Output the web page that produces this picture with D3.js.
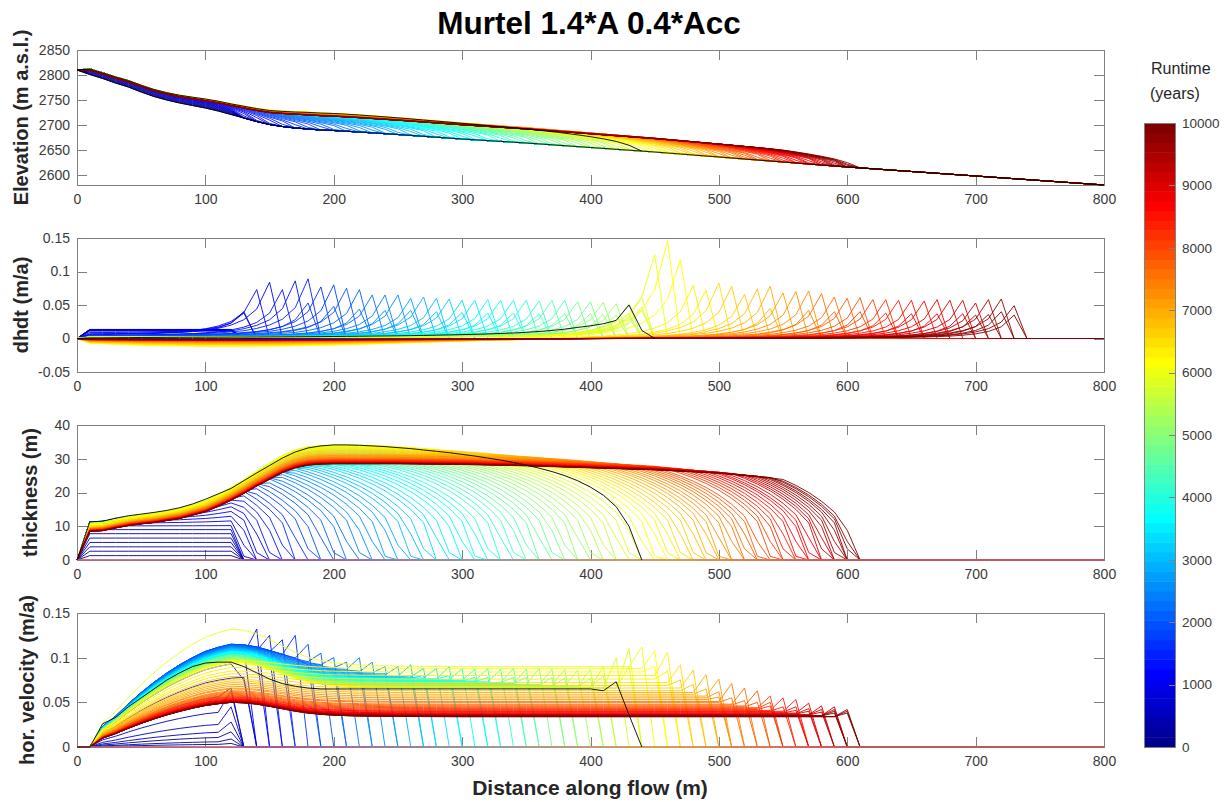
<!DOCTYPE html>
<html>
<head>
<meta charset="utf-8">
<script src="https://cdn.jsdelivr.net/npm/d3@7"></script>
<style>
  body { margin: 0; background: #fff; }
  svg { display: block; font-family: "Liberation Sans", Arial, Helvetica, sans-serif; }
  .axis path, .axis line { stroke: #808080; stroke-width: 1; shape-rendering: crispEdges; }
  .axis text { fill: #3a3a3a; font-size: 14px; font-family: "Liberation Sans", Arial, sans-serif; }
  .profile { fill: none; stroke-width: 0.9; stroke-linejoin: round; }
</style>
</head>
<body>
<svg id="chart" width="1227" height="802"></svg>
<script>
// ---------------- model output (one profile every 100 years) ----------------
const runtimeYears = [0,100,200,300,400,500,600,700,800,900,
  1000,1100,1200,1300,1400,1500,1600,1700,1800,1900,
  2000,2100,2200,2300,2400,2500,2600,2700,2800,2900,
  3000,3100,3200,3300,3400,3500,3600,3700,3800,3900,
  4000,4100,4200,4300,4400,4500,4600,4700,4800,4900,
  5000,5100,5200,5300,5400,5500,5600,5700,5800,5900,
  6000,6100,6200,6300,6400,6500,6600,6700,6800,6900,
  7000,7100,7200,7300,7400,7500,7600,7700,7800,7900,
  8000,8100,8200,8300,8400,8500,8600,8700,8800,8900,
  9000,9100,9200,9300,9400,9500,9600,9700,9800,9900,
  10000];

// position of the rock-glacier toe (m along flow)
const frontX = [130,130,130,130,130,130,130,130,131,134,
  138,142,147,152,158,164,170,176,183,189,
  196,202,209,215,222,228,235,241,248,254,
  261,267,273,280,286,292,299,305,311,317,
  323,330,336,342,348,354,360,366,372,378,
  384,390,396,402,408,414,420,426,432,438,
  445,451,457,462,467,472,477,482,487,492,
  497,501,506,510,515,519,523,527,531,535,
  541,545,549,553,557,561,565,569,572,576,
  580,583,586,589,592,595,598,600,603,605,
  608];

// thickness at the rooting zone (x = 10 m) and maximum thickness (m)
const thick10 = [0,1.3,2.6,3.9,5.2,6.5,7.8,9.0,10.1,10.8,
  11.2,11.3,11.3,11.3,11.3,11.3,11.3,11.3,11.2,11.2,
  11.2,11.2,11.2,11.2,11.2,11.2,11.15,11.15,11.15,11.1,
  11.1,11.1,11.1,11.1,11.05,11.05,11.05,11.05,11.0,11.0,
  11.0,11.0,11.0,11.0,11.0,11.0,10.95,10.95,10.95,10.9,
  10.9,10.9,10.9,10.85,10.85,10.85,10.8,10.8,10.8,10.75,
  10.6,10.4,10.2,10.1,10.0,9.9,9.8,9.7,9.6,9.55,
  9.5,9.4,9.35,9.3,9.25,9.2,9.15,9.1,9.05,9.0,
  8.95,8.9,8.85,8.8,8.78,8.75,8.72,8.7,8.67,8.65,
  8.62,8.6,8.58,8.56,8.55,8.54,8.53,8.52,8.51,8.5,
  8.5];
const thickMax = [0,1.3,2.6,3.9,5.2,6.5,7.8,9.0,10.3,12.5,
  15.0,18.0,21.0,23.5,25.3,26.6,27.4,27.9,28.1,28.2,
  28.3,28.3,28.3,28.3,28.3,28.3,28.3,28.3,28.3,28.3,
  28.3,28.3,28.3,28.3,28.3,28.3,28.3,28.3,28.3,28.3,
  28.3,28.3,28.3,28.5,28.8,29.2,29.6,30.0,30.5,31.0,
  31.5,32.0,32.4,32.8,33.1,33.4,33.6,33.8,33.9,34.0,
  34.0,33.8,33.5,33.2,32.9,32.6,32.3,32.0,31.7,31.4,
  31.2,31.0,30.8,30.6,30.4,30.2,30.0,29.9,29.8,29.7,
  29.6,29.5,29.4,29.3,29.2,29.1,29.0,28.95,28.9,28.85,
  28.8,28.75,28.7,28.7,28.65,28.65,28.6,28.6,28.6,28.55,
  28.5];

// surface-change rate: front peak position (m), peak height and upstream level (m/a)
const dhdtPeakX = [120,120,120,120,120,120,120,120,120,130,
  130,140,150,160,170,180,180,190,200,200,
  210,220,220,230,240,240,250,260,260,270,
  280,280,290,300,300,310,320,320,330,340,
  340,350,360,360,370,380,380,390,400,400,
  410,410,420,420,430,430,430,440,440,440,
  450,460,470,480,490,500,510,520,530,540,
  540,550,560,570,570,580,590,590,600,610,
  610,620,630,630,640,650,650,660,670,670,
  680,690,690,700,700,710,710,720,720,730,
  730];
const dhdtPeak = [0,0,0,0,0,0,0,0,0,0.03,
  0.034,0.068,0.08,0.07,0.083,0.086,0.05,0.074,0.077,0.045,
  0.072,0.071,0.042,0.063,0.063,0.04,0.063,0.058,0.04,0.06,
  0.058,0.038,0.057,0.055,0.037,0.055,0.056,0.036,0.055,0.055,
  0.036,0.055,0.054,0.035,0.055,0.055,0.035,0.053,0.053,0.035,
  0.052,0.034,0.05,0.033,0.05,0.035,0.03,0.04,0.045,0.06,
  0.125,0.146,0.118,0.08,0.072,0.083,0.078,0.066,0.074,0.078,
  0.045,0.068,0.07,0.071,0.042,0.067,0.062,0.04,0.06,0.061,
  0.04,0.058,0.058,0.038,0.057,0.057,0.037,0.056,0.058,0.037,
  0.057,0.057,0.037,0.053,0.035,0.058,0.036,0.059,0.04,0.049,
  0.035];
const dhdtBase = [0,0.013,0.013,0.0135,0.013,0.0135,0.013,0.012,0.011,0.008,
  0.006,0.005,0.004,0.003,0.003,0.003,0.003,0.003,0.003,0.003,
  0.003,0.002,0.002,0.002,0.002,0.002,0.002,0.002,0.002,0.002,
  0.002,0.002,0.002,0.002,0.002,0.002,0.002,0.002,0.002,0.002,
  0.002,0.002,0.002,0.002,0.002,0.002,0.002,0.002,0.002,0.002,
  0.002,0.002,0.002,0.002,0.002,0.002,0.002,0.002,0.002,0.002,
  -0.006,-0.012,-0.011,-0.010,-0.0095,-0.009,-0.0085,-0.008,-0.0075,-0.007,
  -0.0065,-0.006,-0.0056,-0.0052,-0.0048,-0.0045,-0.0042,-0.004,-0.0037,-0.0035,
  -0.0033,-0.0031,-0.003,-0.0028,-0.0027,-0.0026,-0.0025,-0.0024,-0.0023,-0.0022,
  -0.0021,-0.002,-0.002,-0.0019,-0.0019,-0.0018,-0.0018,-0.0017,-0.0017,-0.0016,
  -0.0016];

// horizontal velocity: maximum near x=120, downstream plateau, value at the toe cell (m/a)
const velPeak = [0,0.003,0.006,0.011,0.017,0.026,0.040,0.058,0.077,0.093,
  0.100,0.105,0.108,0.110,0.112,0.113,0.114,0.115,0.115,0.115,
  0.115,0.114,0.114,0.113,0.113,0.112,0.112,0.111,0.111,0.110,
  0.110,0.109,0.109,0.108,0.108,0.107,0.107,0.106,0.106,0.105,
  0.105,0.104,0.104,0.103,0.103,0.102,0.102,0.101,0.101,0.100,
  0.100,0.099,0.099,0.098,0.098,0.097,0.097,0.096,0.096,0.095,
  0.132,0.097,0.093,0.089,0.085,0.082,0.079,0.076,0.074,0.072,
  0.070,0.068,0.066,0.065,0.063,0.062,0.061,0.060,0.059,0.058,
  0.057,0.056,0.056,0.055,0.054,0.054,0.053,0.053,0.052,0.052,
  0.052,0.051,0.051,0.051,0.051,0.050,0.050,0.050,0.050,0.050,
  0.050];
const velPlateau = [0,0,0,0,0,0,0,0,0,0.09,
  0.09,0.09,0.09,0.09,0.09,0.09,0.09,0.09,0.09,0.09,
  0.089,0.088,0.087,0.086,0.085,0.084,0.083,0.082,0.081,0.080,
  0.079,0.078,0.078,0.077,0.077,0.076,0.076,0.075,0.075,0.074,
  0.074,0.073,0.073,0.072,0.072,0.071,0.071,0.070,0.070,0.069,
  0.069,0.068,0.068,0.068,0.067,0.067,0.067,0.066,0.066,0.066,
  0.090,0.088,0.084,0.080,0.076,0.072,0.069,0.066,0.063,0.061,
  0.059,0.057,0.055,0.053,0.051,0.050,0.048,0.047,0.046,0.045,
  0.044,0.043,0.042,0.041,0.040,0.040,0.039,0.038,0.038,0.037,
  0.037,0.036,0.036,0.036,0.035,0.035,0.035,0.035,0.034,0.034,
  0.034];
const velSpike = [0,0.004,0.009,0.017,0.028,0.045,0.063,0.066,0.078,0.075,
  0.11,0.132,0.10,0.125,0.10,0.12,0.095,0.125,0.115,0.092,
  0.105,0.10,0.085,0.095,0.10,0.085,0.095,0.09,0.082,0.09,
  0.092,0.08,0.088,0.08,0.088,0.09,0.08,0.088,0.087,0.078,
  0.088,0.078,0.087,0.088,0.078,0.087,0.078,0.088,0.087,0.078,
  0.087,0.077,0.086,0.087,0.077,0.09,0.08,0.10,0.11,0.09,
  0.112,0.108,0.09,0.106,0.085,0.092,0.075,0.086,0.07,0.081,
  0.065,0.076,0.062,0.056,0.071,0.055,0.066,0.052,0.063,0.05,
  0.057,0.05,0.046,0.055,0.045,0.053,0.045,0.041,0.049,0.043,
  0.04,0.046,0.042,0.039,0.045,0.042,0.04,0.038,0.042,0.04,
  0.038];

// ---------------- shape profiles along flow ----------------
const bedX = [0,10,20,30,40,50,60,70,80,90,100,110,120,130,140,150,160,170,180,190,200,220,250,300,350,400,450,500,550,600,650,700,750,800];
const bedZ = [2810,2801,2793,2784,2776,2766,2757,2750,2744,2739,2734,2728,2721,2714,2707,2701,2697,2694,2692,2690,2689,2686,2681,2672,2664,2655,2646,2636,2626,2616,2607,2598,2589,2580];

const rootShapeX = [0,10,20,30,40,50,60,70,80,90,100,110,120,130,140,150,160,170,180,190,200];
const rootShapeY = [0,0,0.01,0.05,0.085,0.11,0.13,0.16,0.19,0.24,0.29,0.37,0.46,0.56,0.67,0.77,0.87,0.94,0.98,0.995,1];
const plateauDropX = [0,200,250,300,350,400,450,500,550,600,700,800];
const plateauDropY = [0,0,0,0.2,0.6,1.2,1.8,2.8,4.5,5.5,8,11];
const snoutDist = [0,10,20,30,40,50,60,70,80,90,100,120,150,200,300,1000];
const snoutThick = [0,11,15,18,20.5,22.5,24.2,25.6,26.8,27.7,28.4,29.5,31,33.5,38,80];

const velRiseX = [0,10,20,30,40,50,60,70,80,90,100,110,120];
const velRiseY = [0,0,0.2,0.3,0.42,0.53,0.63,0.72,0.8,0.87,0.93,0.97,1];
const velFallX = [120,130,140,150,160,170,180,190,200,220,250,300,800];
const velFallY = [1,0.97,0.88,0.72,0.55,0.38,0.25,0.16,0.1,0.04,0.01,0,0];

const dhdtFlankD = [0,10,20,30,40,50,70,100,150,250,400];
const dhdtFlankR = [1,0.5,0.3,0.2,0.14,0.1,0.06,0.035,0.015,0.005,0];
const thinningX = [0,10,50,100,150,200,250,300,350,400,450,500,800];
const thinningY = [0,0.6,0.85,1,1,0.88,0.68,0.47,0.28,0.13,0.05,0,0];

// reference profile (black), grid 0..450 m
const refThickness = [0,11.3,11.5,12.4,13.1,13.6,14.1,14.7,15.5,16.6,18.0,19.6,21.2,23.5,25.8,28.0,30.2,32.0,33.2,33.8,
  34.1,34.1,34.0,33.8,33.6,33.3,33.0,32.6,32.2,31.8,31.3,30.8,30.2,29.6,28.9,28.1,27.2,26.2,25.0,23.5,
  21.6,19.2,15.8,10.0,0,0];
const refVelocity = [0,0,0.026,0.033,0.045,0.055,0.065,0.075,0.083,0.09,0.094,0.095,0.095,0.09,0.083,0.076,0.071,0.068,0.066,0.065,
  0.065,0.065,0.065,0.065,0.065,0.065,0.065,0.065,0.065,0.065,0.065,0.065,0.065,0.065,0.065,0.065,0.065,0.065,0.065,0.065,
  0.065,0.063,0.073,0.036,0,0];
const refDhdt = [0,0.001,0.001,0.0012,0.0013,0.0015,0.0016,0.0017,0.0018,0.0019,0.002,0.002,0.0021,0.0022,0.0023,0.0024,0.0025,0.0026,0.0027,0.0028,
  0.003,0.0032,0.0034,0.0036,0.0038,0.004,0.0043,0.0046,0.005,0.0054,0.0058,0.0063,0.0068,0.0075,0.0083,0.0092,0.0105,0.012,0.014,0.0165,
  0.019,0.022,0.027,0.05,0.012,0];

// ---------------- axes ticks ----------------
const xTicks = [0,100,200,300,400,500,600,700,800];
const elevTicks = [2600,2650,2700,2750,2800,2850];
const dhdtTicks = [-0.05,0,0.05,0.1,0.15];
const thickTicks = [0,10,20,30,40];
const velTicks = [0,0.05,0.1,0.15];
const runtimeTicks = [0,1000,2000,3000,4000,5000,6000,7000,8000,9000,10000];

// ---------------- helpers ----------------
const gridX = d3.range(0, 801, 10);
const lerp = (xs, ys) => d3.scaleLinear().domain(xs).range(ys).clamp(true);
const bed = lerp(bedX, bedZ);
const rootShape = lerp(rootShapeX, rootShapeY);
const plateauDrop = lerp(plateauDropX, plateauDropY);
const snout = lerp(snoutDist, snoutThick);
const velRise = lerp(velRiseX, velRiseY);
const velFall = lerp(velFallX, velFallY);
const flank = lerp(dhdtFlankD, dhdtFlankR);
const thinning = lerp(thinningX, thinningY);

function buildJet(m) {
  const n = Math.ceil(m / 4);
  const u = [];
  for (let k = 1; k <= n; k++) u.push(k / n);
  for (let k = 1; k < n; k++) u.push(1);
  for (let k = n; k >= 1; k--) u.push(k / n);
  const gOff = Math.ceil(n / 2) - (m % 4 === 1 ? 1 : 0);
  const J = Array.from({length: m}, () => [0, 0, 0]);
  u.forEach((v, k) => {
    const g = gOff + k + 1, r = g + n, b = g - n;
    if (r >= 1 && r <= m) J[r - 1][0] = v;
    if (g >= 1 && g <= m) J[g - 1][1] = v;
    if (b >= 1 && b <= m) J[b - 1][2] = v;
  });
  return J.map(c => d3.rgb(c[0] * 255, c[1] * 255, c[2] * 255).formatHex());
}
const jet = buildJet(64);
const tMax = 10000;
const colorOf = t => jet[Math.min(63, Math.floor(t / tMax * 64))];

function thicknessProfile(i) {
  return gridX.map(xv => {
    if (xv === 0 || xv >= frontX[i]) return 0;
    const up = thick10[i] + rootShape(xv) * (thickMax[i] - thick10[i]) - plateauDrop(xv);
    return Math.max(0, Math.min(up, snout(frontX[i] - xv)));
  });
}
function velocityProfile(i) {
  const last = Math.ceil(frontX[i] / 10) * 10 - 10;
  return gridX.map(xv => {
    if (xv <= 10 || xv > last) return 0;
    if (xv === last) return velSpike[i];
    if (xv <= 120) return velPeak[i] * velRise(xv);
    return velPlateau[i] + (velPeak[i] - velPlateau[i]) * velFall(xv);
  });
}
function dhdtProfile(i) {
  const X = dhdtPeakX[i];
  return gridX.map(xv => {
    if (xv === 0 || xv > X) return 0;
    const base = dhdtBase[i] >= 0 ? dhdtBase[i] : dhdtBase[i] * thinning(xv);
    return base + dhdtPeak[i] * flank(X - xv);
  });
}

// ---------------- layout ----------------
const svg = d3.select("#chart");
const x = d3.scaleLinear().domain([0, 800]).range([77, 1104]);
const panels = [
  {key: "elev",  top: 50,  bottom: 185, domain: [2580, 2850], ticks: elevTicks,  label: "Elevation (m a.s.l.)", labelX: 21},
  {key: "dhdt",  top: 238, bottom: 372, domain: [-0.05, 0.15], ticks: dhdtTicks, label: "dhdt (m/a)",           labelX: 21},
  {key: "thick", top: 425, bottom: 560, domain: [0, 40],       ticks: thickTicks, label: "thickness (m)",       labelX: 30},
  {key: "vel",   top: 613, bottom: 747, domain: [0, 0.15],     ticks: velTicks,   label: "hor. velocity (m/a)", labelX: 27}
];

panels.forEach(p => {
  p.y = d3.scaleLinear().domain(p.domain).range([p.bottom, p.top]);
  const g = svg.append("g");
  g.append("g").attr("class", "axis").attr("transform", `translate(0,${p.bottom})`)
    .call(d3.axisBottom(x).tickValues(xTicks).tickSizeInner(-10).tickSizeOuter(0).tickPadding(9).tickFormat(d => String(d)));
  g.append("g").attr("class", "axis").attr("transform", `translate(0,${p.top})`)
    .call(d3.axisTop(x).tickValues(xTicks).tickSizeInner(-10).tickSizeOuter(0).tickFormat(""));
  g.append("g").attr("class", "axis").attr("transform", `translate(${x(0)},0)`)
    .call(d3.axisLeft(p.y).tickValues(p.ticks).tickSizeInner(-10).tickSizeOuter(0).tickPadding(7).tickFormat(d => String(d)));
  g.append("g").attr("class", "axis").attr("transform", `translate(${x(800)},0)`)
    .call(d3.axisRight(p.y).tickValues(p.ticks).tickSizeInner(-10).tickSizeOuter(0).tickFormat(""));
  p.layer = svg.append("g");
  svg.append("text")
    .attr("transform", `translate(${p.labelX},${(p.top + p.bottom) / 2}) rotate(-90)`)
    .attr("text-anchor", "middle").attr("dy", "0.35em")
    .attr("font-size", 20).attr("font-weight", "bold").attr("fill", "#262626")
    .text(p.label);
});

const P = Object.fromEntries(panels.map(p => [p.key, p]));
function drawLine(p, pts, color, width) {
  const line = d3.line().x(d => x(d[0])).y(d => p.y(d[1]));
  const path = p.layer.append("path").attr("class", "profile").attr("stroke", color).attr("d", line(pts));
  if (width) path.style("stroke-width", width);
}

runtimeYears.forEach((t, i) => {
  const c = colorOf(t);
  const h = thicknessProfile(i);
  const dh = dhdtProfile(i);
  const u = velocityProfile(i);
  drawLine(P.elev, gridX.map((xv, k) => [xv, bed(xv) + h[k]]), c);
  drawLine(P.dhdt, gridX.map((xv, k) => [xv, dh[k]]), c);
  drawLine(P.thick, gridX.map((xv, k) => [xv, h[k]]), c);
  drawLine(P.vel, gridX.map((xv, k) => [xv, u[k]]), c);
});

// ice-free ground line for the final state, drawn along the zero level
drawLine(P.thick, gridX.map(xv => [xv, 0]), "#d27878", 1.6);
drawLine(P.vel, gridX.map(xv => [xv, 0]), "#d27878", 1.6);

// bed and reference profile in black
drawLine(P.elev, gridX.map(xv => [xv, bed(xv)]), "#000");
const refGrid = refThickness.map((_, k) => k * 10);
drawLine(P.elev, refGrid.slice(0, 45).map((xv, k) => [xv, bed(xv) + refThickness[k]]), "#000");
drawLine(P.thick, refGrid.slice(0, 45).map((xv, k) => [xv, refThickness[k]]), "#000");
drawLine(P.vel, refGrid.slice(0, 45).map((xv, k) => [xv, refVelocity[k]]), "#000");
drawLine(P.dhdt, refGrid.map((xv, k) => [xv, refDhdt[k]]), "#000");

// ---------------- title and x label ----------------
svg.append("text").attr("x", 589).attr("y", 34).attr("text-anchor", "middle")
  .attr("font-size", 31.5).attr("font-weight", "bold").attr("fill", "#000")
  .text("Murtel 1.4*A 0.4*Acc");
svg.append("text").attr("x", 590).attr("y", 795).attr("text-anchor", "middle")
  .attr("font-size", 21).attr("font-weight", "bold").attr("fill", "#262626")
  .text("Distance along flow (m)");

// ---------------- colorbar ----------------
const cb = {left: 1144, right: 1175, top: 123, bottom: 747};
const cy = d3.scaleLinear().domain([0, tMax]).range([cb.bottom, cb.top]);
const cbg = svg.append("g");
jet.forEach((c, k) => {
  const t0 = k / 64 * tMax, t1 = (k + 1) / 64 * tMax;
  cbg.append("rect").attr("x", cb.left).attr("width", cb.right - cb.left)
    .attr("y", cy(t1)).attr("height", cy(t0) - cy(t1) + 0.5).attr("fill", c);
});
cbg.append("rect").attr("x", cb.left).attr("y", cb.top).attr("width", cb.right - cb.left)
  .attr("height", cb.bottom - cb.top).attr("fill", "none").attr("stroke", "#808080")
  .attr("shape-rendering", "crispEdges");
cbg.append("g").attr("class", "axis").attr("transform", `translate(${cb.right},0)`)
  .call(d3.axisRight(cy).tickValues(runtimeTicks).tickSizeInner(-6).tickSizeOuter(0).tickPadding(7).tickFormat(d => String(d)))
  .call(g => g.select(".domain").remove());
cbg.selectAll(".axis text").style("font-size", "13.5px");
svg.append("text").attr("x", 1151).attr("y", 74).attr("font-size", 16).attr("fill", "#262626").text("Runtime");
svg.append("text").attr("x", 1150).attr("y", 99).attr("font-size", 16).attr("fill", "#262626").text("(years)");
</script>
</body>
</html>
